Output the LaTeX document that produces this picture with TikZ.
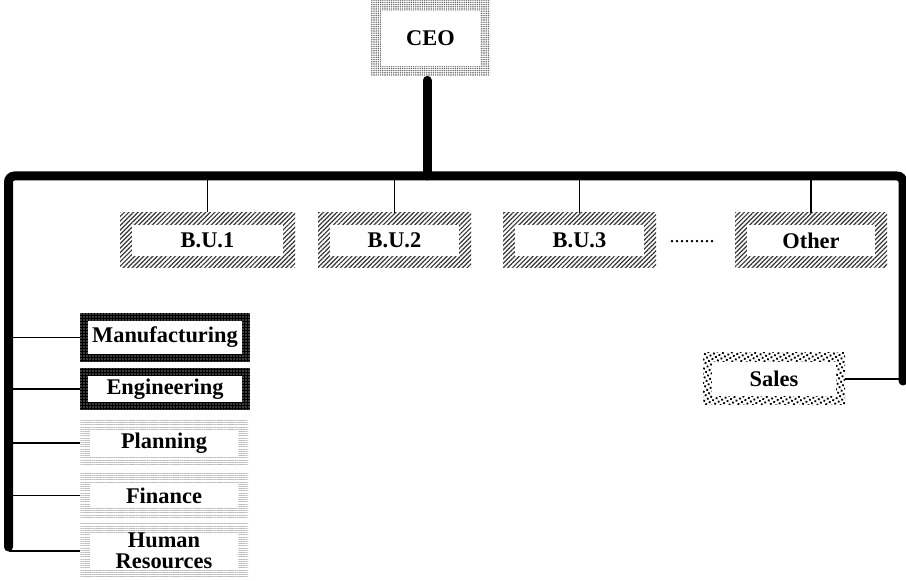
\documentclass[tikz,border=0pt]{standalone}
\usepackage{fontspec}
\setmainfont{Liberation Serif}
\usetikzlibrary{patterns.meta}

\begin{document}
\begin{tikzpicture}[
    x=0.5pt, y=-0.5pt,
    font=\fontsize{11.2}{10.6}\selectfont\bfseries,
    frame/.style={inner sep=0pt, align=center, path picture={
        \fill[white] ([shift={(#1,#1)}]path picture bounding box.south west)
            rectangle ([shift={(-#1,-#1)}]path picture bounding box.north east);}},
    ceobox/.style={frame=5pt, pattern={Dots[distance=1.1pt,radius=0.4pt]}, pattern color=black!60},
    bubox/.style={frame=6pt, pattern={Lines[angle=45,distance=1.6pt,line width=0.6pt]}, pattern color=black!80,
        minimum width=76.5pt, minimum height=27.5pt},
    darkbox/.style={frame=4pt, preaction={fill=black}, pattern={Dots[distance=1.5pt,radius=0.3pt]}, pattern color=white,
        minimum width=85pt},
    greybox/.style={frame=5pt, pattern={Lines[angle=0,distance=1.1pt,line width=0.35pt]}, pattern color=black!25,
        minimum width=84pt},
    salesbox/.style={frame=4.5pt, pattern={Dots[angle=30,distance=2pt,radius=0.65pt]}, pattern color=black,
        minimum width=71pt, minimum height=26pt},
    bus/.style={line width=4.5pt, line cap=round, rounded corners=3pt},
    link/.style={line width=0.7pt}
]
\useasboundingbox (0,0) rectangle (906,581);

% top
\node[ceobox, minimum width=59.5pt, minimum height=37.5pt] (ceo) at (430.5,38.5) {CEO};

% business units
\node[bubox, minimum width=87.5pt] (bu1) at (207.5,240.5) {B.U.1};
\node[bubox] (bu2) at (394.5,240.5) {B.U.2};
\node[bubox] (bu3) at (579.5,240.5) {B.U.3};
\node[bubox, minimum width=76pt] (other) at (811,240.5) {Other};
\node[font=\fontsize{10}{10}\selectfont] (more) at (692,242) {.........};

% functions
\node[darkbox, minimum height=24.5pt] (mfg) at (165,337.5) {Manufacturing};
\node[darkbox, minimum height=21pt] (eng) at (165,389) {Engineering};
\node[greybox, minimum height=23pt] (plan) at (164,443) {Planning};
\node[greybox, minimum height=22.5pt] (fin) at (164,495.5) {Finance};
\node[greybox, minimum height=27pt] (hr) at (164,551) {Human\\Resources};
\node[salesbox] (sales) at (774,379) {Sales};

% main lines
\coordinate (busl) at (8.5,176);
\coordinate (busr) at (903,176);
\coordinate (lend) at (8.5,547);
\coordinate (rend) at (903,381);
\draw[bus] (lend) -- (busl) -- (busr) -- (rend);
\draw[bus] (ceo.south -| 427,0) ++(0,4) -- (427,176);

\foreach \u in {bu1,bu2,bu3,other}
    \draw[link] (\u.north) -- (\u.north |- busl);
\foreach \f in {mfg,eng,plan,fin,hr}
    \draw[link] (\f.west) -- (\f.west -| busl);
\draw[link] (sales.east) -- (sales.east -| busr);
\end{tikzpicture}
\end{document}
